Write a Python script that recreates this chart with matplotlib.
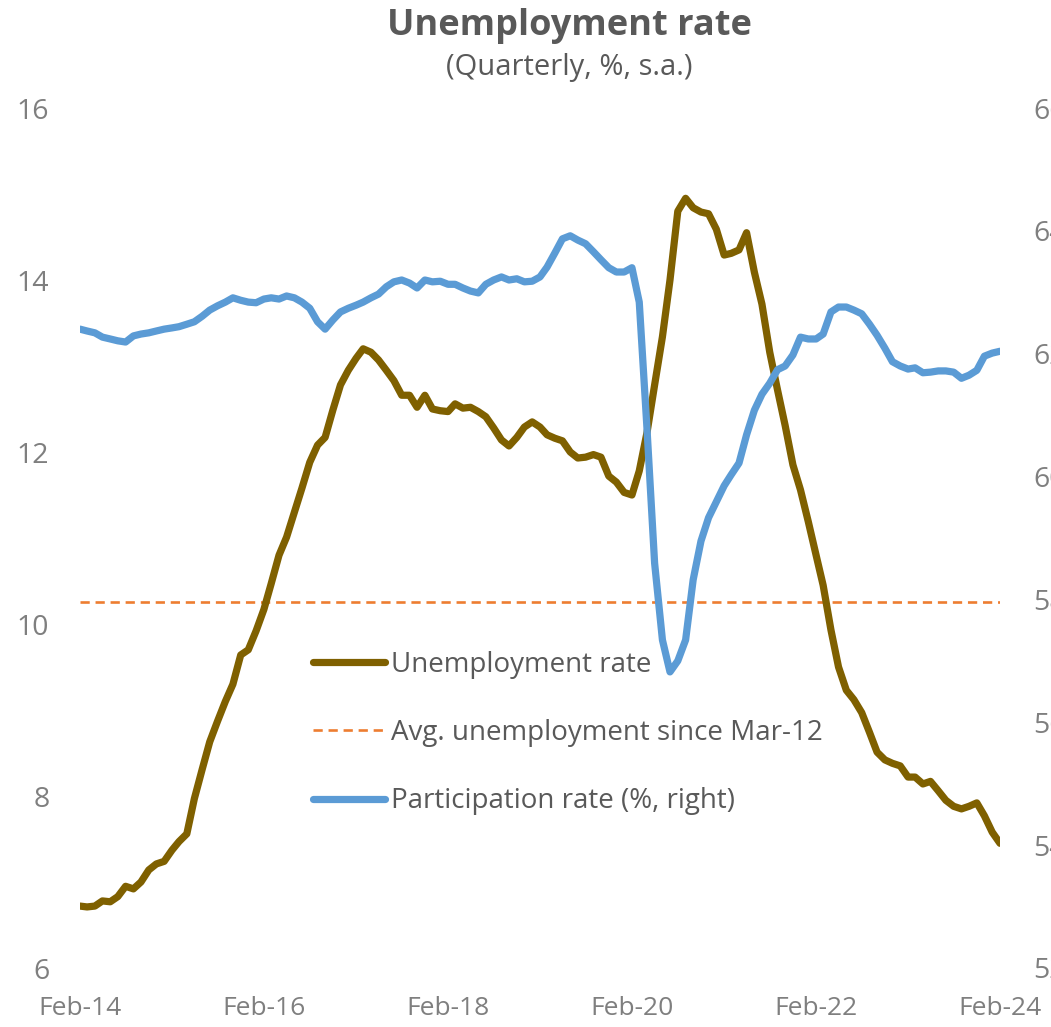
import numpy as np
import pandas as pd
import matplotlib
matplotlib.use("Agg")
import matplotlib.pyplot as plt

# monthly data, rolling quarter, Feb-14 .. Feb-24
dates = pd.date_range("2014-02-01", periods=121, freq="MS")

unemployment = [
    6.72, 6.71, 6.72, 6.78, 6.77, 6.83, 6.95, 6.92, 7.00, 7.14, 7.21, 7.24,
    7.37, 7.47, 7.56, 7.97, 8.31, 8.63, 8.87, 9.10, 9.30, 9.64, 9.70, 9.92,
    10.17, 10.47, 10.80, 11.01, 11.30, 11.58, 11.88, 12.08, 12.17, 12.49, 12.78, 12.95,
    13.09, 13.20, 13.16, 13.07, 12.95, 12.83, 12.66, 12.66, 12.52, 12.66, 12.50, 12.48,
    12.47, 12.56, 12.51, 12.52, 12.47, 12.41, 12.28, 12.14, 12.07, 12.17, 12.29, 12.35,
    12.29, 12.20, 12.16, 12.13, 12.00, 11.93, 11.94, 11.97, 11.94, 11.72, 11.65, 11.53,
    11.50, 11.78, 12.23, 12.78, 13.34, 14.00, 14.80, 14.95, 14.84, 14.79, 14.77, 14.59,
    14.29, 14.31, 14.35, 14.55, 14.09, 13.72, 13.16, 12.72, 12.31, 11.85, 11.56, 11.19,
    10.80, 10.45, 9.93, 9.50, 9.23, 9.12, 8.97, 8.74, 8.51, 8.42, 8.38, 8.35,
    8.22, 8.22, 8.14, 8.17, 8.06, 7.95, 7.88, 7.85, 7.88, 7.92, 7.77, 7.58,
    7.45,
]

participation = [
    62.40, 62.37, 62.34, 62.27, 62.24, 62.21, 62.19, 62.29, 62.32, 62.34, 62.37, 62.40,
    62.42, 62.44, 62.48, 62.52, 62.61, 62.71, 62.78, 62.84, 62.91, 62.87, 62.84, 62.83,
    62.89, 62.91, 62.89, 62.94, 62.91, 62.84, 62.74, 62.52, 62.40, 62.55, 62.68, 62.74,
    62.79, 62.84, 62.91, 62.97, 63.09, 63.17, 63.20, 63.15, 63.07, 63.20, 63.17, 63.18,
    63.13, 63.13, 63.07, 63.02, 62.99, 63.13, 63.20, 63.25, 63.20, 63.22, 63.17, 63.18,
    63.25, 63.41, 63.64, 63.87, 63.92, 63.85, 63.79, 63.66, 63.53, 63.40, 63.33, 63.33,
    63.40, 62.84, 60.76, 58.59, 57.34, 56.82, 57.00, 57.34, 58.32, 58.95, 59.33, 59.59,
    59.85, 60.03, 60.22, 60.68, 61.08, 61.34, 61.52, 61.74, 61.80, 61.98, 62.27, 62.24,
    62.24, 62.32, 62.68, 62.76, 62.76, 62.71, 62.65, 62.48, 62.30, 62.09, 61.87, 61.80,
    61.75, 61.77, 61.69, 61.70, 61.72, 61.72, 61.70, 61.60, 61.65, 61.73, 61.96, 62.01,
    62.04,
]

avg_unemployment = 10.26

tick_dates = pd.to_datetime(["2014-02-01", "2016-02-01", "2018-02-01",
                             "2020-02-01", "2022-02-01", "2024-02-01"])
tick_labels = ["Feb-14", "Feb-16", "Feb-18", "Feb-20", "Feb-22", "Feb-24"]

brown = "#7F6000"
blue = "#5B9BD5"
orange = "#ED7D31"
grey = "#595959"
tick_grey = "#7F7F7F"

plt.rcParams["font.family"] = ["Open Sans", "DejaVu Sans"]

W, H = 1051, 1027
fig = plt.figure(figsize=(W / 100, H / 100), dpi=100)
ax = fig.add_axes([80 / W, 1 - 968 / H, 920 / W, 860 / H])
ax2 = ax.twinx()

l1, = ax.plot(dates, unemployment, color=brown, lw=5.2, solid_capstyle="round",
              solid_joinstyle="round", label="Unemployment rate", zorder=3)
l2 = ax.axhline(avg_unemployment, color=orange, lw=1.9, dashes=(3.5, 2.2),
                label="Avg. unemployment since Mar-12", zorder=2)
l3, = ax2.plot(dates, participation, color=blue, lw=5.2, solid_capstyle="round",
               solid_joinstyle="round", label="Participation rate (%, right)")

ax.set_xlim(dates[0], dates[-1])
ax.set_ylim(6, 16)
ax.set_yticks(np.arange(6, 17, 2))
ax2.set_ylim(52, 66)
ax2.set_yticks(np.arange(52, 67, 2))
ax.set_xticks(tick_dates)
ax.set_xticklabels(tick_labels)

for a in (ax, ax2):
    for s in a.spines.values():
        s.set_visible(False)
ax.tick_params(axis="x", length=0, pad=20, labelsize=19, labelcolor=tick_grey)
ax.tick_params(axis="y", length=0, pad=22, labelsize=20.5, labelcolor=tick_grey)
ax2.tick_params(axis="y", length=0, pad=24, labelsize=20.5, labelcolor=tick_grey)

fig.text(569 / W, 1 - 26 / H, "Unemployment rate", ha="center", va="center",
         fontsize=26, fontweight="bold", color=grey)
fig.text(569 / W, 1 - 68 / H, "(Quarterly, %, s.a.)", ha="center", va="center",
         fontsize=21, color=grey)

leg = ax.legend(handles=[l1, l2, l3], loc="center left",
                bbox_to_anchor=(313 / W, 1 - 733 / H), bbox_transform=fig.transFigure,
                frameon=False, fontsize=20, handlelength=2.6, handletextpad=0.2,
                labelspacing=1.45, borderpad=0, borderaxespad=0)
for t in leg.get_texts():
    t.set_color(grey)

fig.savefig("out.png", dpi=100)
